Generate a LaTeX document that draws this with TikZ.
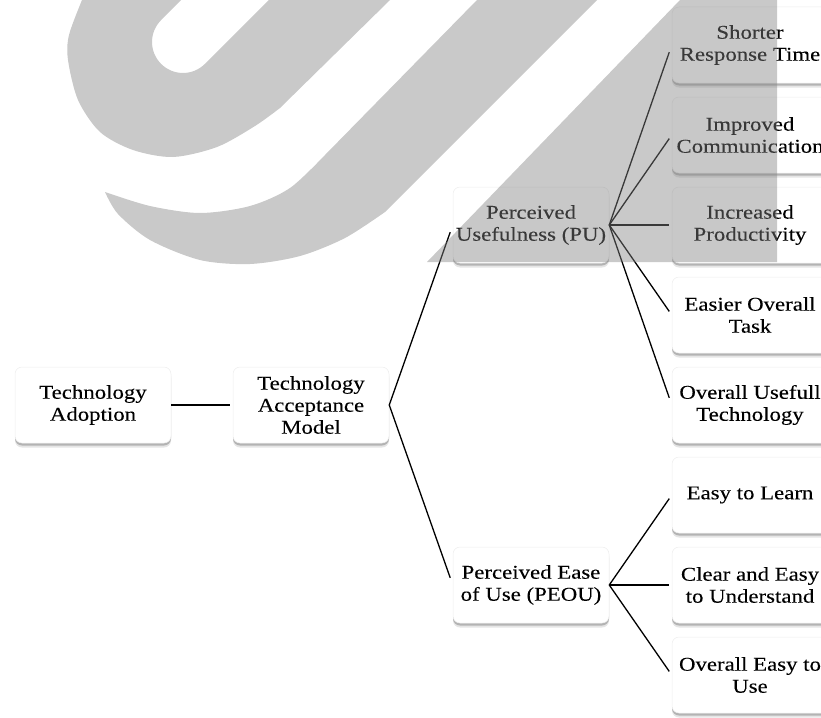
\documentclass[tikz,border=0pt]{standalone}
\usepackage{fontspec}
\setmainfont{Liberation Serif}[FakeStretch=1.17, FakeBold=0.12]
\usetikzlibrary{calc,shadows}
\definecolor{wmgray}{RGB}{131,131,131}
\begin{document}
\begin{tikzpicture}[x=1pt,y=-1pt,
  box/.style={rectangle, rounded corners=7pt, fill=white, draw=black!7,
    line width=0.5pt, minimum width=156pt, minimum height=76pt,
    inner sep=0pt, align=center, font=\fontsize{19.5}{22}\selectfont,
    drop shadow={shadow xshift=0pt, shadow yshift=-4.5pt, opacity=0.10, fill=black},
    drop shadow={shadow xshift=0pt, shadow yshift=-2.5pt, opacity=0.22, fill=black}},
  link/.style={line width=1.3pt, black},
  logoshape/.style={fill=wmgray, fill opacity=0.44}]

\useasboundingbox (0,0) rectangle (821,717);
\clip (0,0) rectangle (821,717);

% hierarchy boxes
\node[box] (ta)   at (93,405)  {Technology\\Adoption};
\node[box] (tam)  at (311,405) {Technology\\Acceptance\\Model};
\node[box] (pu)   at (531,225) {Perceived\\Usefulness (PU)};
\node[box] (peou) at (531,585) {Perceived Ease\\of Use (PEOU)};

\node[box] (c1) at (750,45)  {Shorter\\Response Time};
\node[box] (c2) at (750,135) {Improved\\Communication};
\node[box] (c3) at (750,225) {Increased\\Productivity};
\node[box] (c4) at (750,315) {Easier Overall\\Task};
\node[box] (c5) at (750,405) {Overall Usefull\\Technology};
\node[box] (c6) at (750,495) {Easy to Learn};
\node[box] (c7) at (750,585) {Clear and Easy\\to Understand};
\node[box] (c8) at (750,675) {Overall Easy to\\Use};

% connectors, stopping just short of each child box
\foreach \p/\c in {ta/tam, tam/pu, tam/peou, pu/c1, pu/c2, pu/c3, pu/c4, pu/c5,
                   peou/c6, peou/c7, peou/c8}
  \draw[link] (\p.east) -- ($(\p.east)!0.96!(\c.west)$);

% grey logo laid over the upper part
\fill[logoshape] (82,0) -- plot[smooth] coordinates {(82,0) (69,35) (68,60) (78,100)
    (100,132) (133,150) (173,157) (217,147) (255,126) (280,108)}
  -- (390,0) -- (268.8,0) -- (204.9,63.9)
  .. controls (192.8,76.0) and (173.2,76.0) .. (161.1,63.9)
  .. controls (149.0,51.8) and (149.0,32.2) .. (161.1,20.1)
  -- (181.2,0) -- cycle;

\fill[logoshape] (105,192) -- plot[smooth] coordinates {(105,192) (150,206) (200,213)
    (250,206) (290,188) (325,155)}
  -- (477,0) -- (597,0) -- (385,212)
  -- plot[smooth] coordinates {(385,212) (345,238) (300,256) (250,264) (200,260)
    (150,240) (118,214) (105,192)} -- cycle;

\fill[logoshape] (680,0) -- (777,0) -- (777,262) -- (427,262) -- cycle;
\end{tikzpicture}
\end{document}
